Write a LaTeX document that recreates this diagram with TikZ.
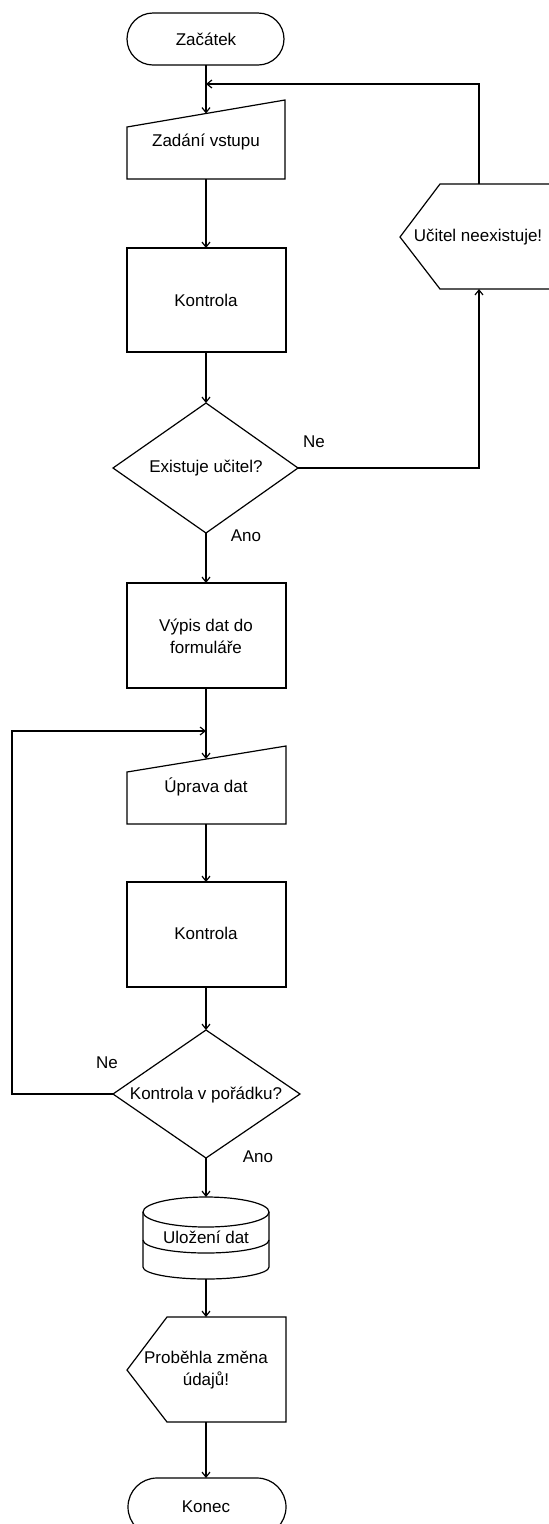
\documentclass[tikz,border=0pt]{standalone}
\usepackage{fontspec}
\setmainfont{Liberation Sans}
\usetikzlibrary{arrows.meta}
\begin{document}
\begin{tikzpicture}[x=1pt,y=-1pt,
  line width=1.2pt,
  lbl/.style={font=\fontsize{17}{22}\selectfont, text=black, inner sep=0pt, align=center},
  arr/.style={draw=black, -{Straight Barb[length=5pt,width=8pt]}},
  wire/.style={draw=black},
  outline/.style={draw=black, line width=1.2pt, fill=white}]
\useasboundingbox (0,0) rectangle (549,1524);
\clip (0,0) rectangle (549,1524);

% ---- start terminal
\draw[outline, rounded corners=26pt] (127,13) rectangle (284,65);
\node[lbl] (start) at (206,39) {Začátek};
\coordinate (startb) at (206,65);

% ---- manual input: Zadání vstupu
\draw[outline] (127,127) -- (285,100) -- (285,179) -- (127,179) -- cycle;
\node[lbl] (inp) at (206,142) {Zadání vstupu};
\coordinate (inpt) at (206,113.5);
\coordinate (inpb) at (206,179);
\coordinate (join1) at (206,84);

% ---- process: Kontrola
\draw[outline] (127,248) rectangle (286,352);
\node[lbl] (chk1) at (206,300) {Kontrola};
\coordinate (chk1t) at (206,248);
\coordinate (chk1b) at (206,352);

% ---- decision: Existuje učitel?
\draw[outline] (206,403) -- (298,468) -- (206,533) -- (113,468) -- cycle;
\node[lbl] (dec1) at (206,468) {Existuje učitel?};
\coordinate (dec1t) at (206,403);
\coordinate (dec1r) at (298,468);
\coordinate (dec1b) at (206,533);
\node[lbl] (ne1) at (314,442) {Ne};
\node[lbl] (ano1) at (246,536) {Ano};

% ---- display: Učitel neexistuje!
\draw[outline] (400,237) -- (440,184) -- (600,184) -- (600,289) -- (440,289) -- cycle;
\node[lbl] (err) at (478,237) {Učitel neexistuje!};
\coordinate (errt) at (479,184);
\coordinate (errb) at (479,289);
\coordinate (errc1) at (479,468);
\coordinate (errc2) at (479,84);

% ---- process: Výpis dat do formuláře
\draw[outline] (127,583) rectangle (286,688);
\node[lbl] (show) at (206,636) {Výpis dat do\\formuláře};
\coordinate (showt) at (206,583);
\coordinate (showb) at (206,688);
\coordinate (join2) at (206,731);

% ---- manual input: Úprava dat
\draw[outline] (127,772) -- (286,746) -- (286,824) -- (127,824) -- cycle;
\node[lbl] (edit) at (206,787) {Úprava dat};
\coordinate (editt) at (206,759);
\coordinate (editb) at (206,824);

% ---- process: Kontrola
\draw[outline] (127,882) rectangle (286,987);
\node[lbl] (chk2) at (206,933) {Kontrola};
\coordinate (chk2t) at (206,882);
\coordinate (chk2b) at (206,987);

% ---- decision: Kontrola v pořádku?
\draw[outline] (206,1030) -- (300,1094) -- (206,1158) -- (113,1094) -- cycle;
\node[lbl] (dec2) at (206,1095) {Kontrola v pořádku?};
\coordinate (dec2t) at (206,1030);
\coordinate (dec2l) at (113,1094);
\coordinate (dec2b) at (206,1158);
\coordinate (loopa) at (12,1094);
\coordinate (loopb) at (12,731);
\node[lbl] (ne2) at (107,1063) {Ne};
\node[lbl] (ano2) at (258,1157) {Ano};

% ---- stored data: Uložení dat (y axis points down, so angle 90 is the lower side)
\draw[outline] (143,1212) -- (143,1267) arc[start angle=180, end angle=0, x radius=63, y radius=12]
  -- (269,1212) arc[start angle=0, end angle=-180, x radius=63, y radius=15] -- cycle;
\draw[wire] (143,1212) arc[start angle=180, end angle=0, x radius=63, y radius=15];
\draw[wire] (143,1240) arc[start angle=180, end angle=0, x radius=63, y radius=13];
\node[lbl] (save) at (206,1237) {Uložení dat};
\coordinate (savet) at (206,1197);
\coordinate (saveb) at (206,1279);

% ---- display: Proběhla změna údajů!
\draw[outline] (127,1370) -- (167,1317) -- (286,1317) -- (286,1422) -- (167,1422) -- cycle;
\node[lbl] (done) at (206,1370) {Proběhla změna\\údajů!};
\coordinate (donet) at (206,1317);
\coordinate (doneb) at (206,1422);

% ---- end terminal
\draw[outline, rounded corners=29pt] (128,1478) rectangle (286,1536);
\node[lbl] (stop) at (206,1507) {Konec};
\coordinate (stopt) at (206,1478);

% ---- connectors
\draw[arr] (startb) -- (inpt);
\draw[arr] (inpb) -- (chk1t);
\draw[arr] (chk1b) -- (dec1t);
\draw[arr] (dec1b) -- (showt);
\draw[arr] (dec1r) -- (errc1) -- (errb);
\draw[arr] (errt) -- (errc2) -- (join1);
\draw[arr] (showb) -- (editt);
\draw[arr] (editb) -- (chk2t);
\draw[arr] (chk2b) -- (dec2t);
\draw[arr] (dec2l) -- (loopa) -- (loopb) -- (join2);
\draw[arr] (dec2b) -- (savet);
\draw[arr] (saveb) -- (donet);
\draw[arr] (doneb) -- (stopt);
\end{tikzpicture}
\end{document}
